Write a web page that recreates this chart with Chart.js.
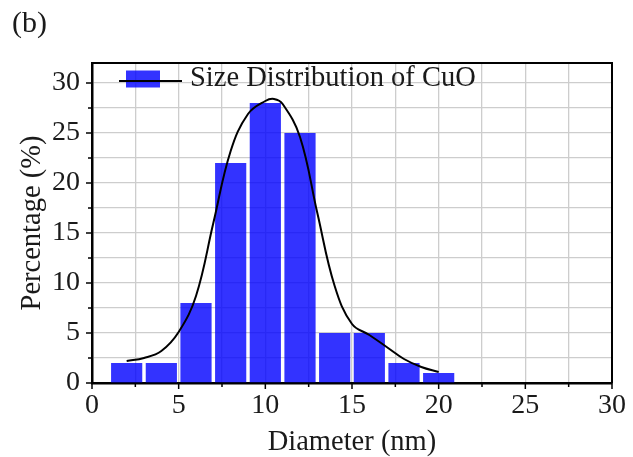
<!DOCTYPE html>
<html>
<head>
<meta charset="utf-8">
<script src="https://cdn.jsdelivr.net/npm/chart.js@4"></script>
<style>
  html, body { margin: 0; padding: 0; background: #fff; }
  #wrap { width: 633px; height: 457px; }
</style>
</head>
<body>
<div id="wrap"><canvas id="sizeChart" width="633" height="457"></canvas></div>
<script>
// histogram bins (centre of each 2 nm bin) and percentages
const binCenters = [2, 4, 6, 8, 10, 12, 14, 16, 18, 20];
const binPercent = [2, 2, 8, 22, 28, 25, 5, 5, 2, 1];

// fitted distribution curve
const curveX = [2, 3, 4, 5, 6, 7, 8, 9, 10, 10.5, 11, 12, 13, 14, 15, 16, 17, 18, 19, 20];
const curveY = [2.2, 2.5, 3.2, 5.1, 8.7, 16.0, 23.2, 26.9, 28.2, 28.4, 27.9, 24.6, 17.0, 9.7, 5.9, 4.8, 3.6, 2.4, 1.6, 1.1];

// grid / tick positions (labels only on multiples of 5)
const xTickValues = [0, 2.5, 5, 7.5, 10, 12.5, 15, 17.5, 20, 22.5, 25, 27.5, 30];
const yTickValues = [0, 2.5, 5, 7.5, 10, 12.5, 15, 17.5, 20, 22.5, 25, 27.5, 30];

const xTitle = 'Diameter (nm)';
const yTitle = 'Percentage (%)';
const seriesLabel = 'Size Distribution of CuO';
const panelLabel = '(b)';

const SERIF = '"Liberation Serif", "Times New Roman", serif';
const TEXT = '#1a1a1a';
const BAR_FILL = 'rgba(0, 0, 255, 0.8)';

// outward tick marks: long on labelled values, short in between
const tickMarks = {
    id: 'tickMarks',
    afterDraw(chart) {
        const ctx = chart.ctx;
        const { x, y } = chart.scales;
        ctx.save();
        ctx.strokeStyle = '#000';
        ctx.lineWidth = 1.5;
        x.ticks.forEach(t => {
            const px = x.getPixelForValue(t.value);
            const len = t.value % 5 === 0 ? 6 : 4;
            ctx.beginPath();
            ctx.moveTo(px, y.bottom);
            ctx.lineTo(px, y.bottom + len);
            ctx.stroke();
        });
        y.ticks.forEach(t => {
            const py = y.getPixelForValue(t.value);
            const len = t.value % 5 === 0 ? 6 : 4;
            ctx.beginPath();
            ctx.moveTo(x.left, py);
            ctx.lineTo(x.left - len, py);
            ctx.stroke();
        });
        ctx.restore();
    }
};

// top and right edges of the frame
const frame = {
    id: 'frame',
    afterDraw(chart) {
        const { left, right, top, bottom } = chart.chartArea;
        const ctx = chart.ctx;
        ctx.save();
        ctx.strokeStyle = '#000';
        ctx.lineWidth = 2;
        ctx.beginPath();
        ctx.moveTo(left, top);
        ctx.lineTo(right, top);
        ctx.lineTo(right, bottom);
        ctx.stroke();
        ctx.restore();
    }
};

// legend: blue box crossed by the curve's line
const comboLegend = {
    id: 'comboLegend',
    afterDraw(chart) {
        const { left, top } = chart.chartArea;
        const ctx = chart.ctx;
        const cy = top + 16;
        ctx.save();
        ctx.fillStyle = BAR_FILL;
        ctx.fillRect(left + 34, cy - 8.5, 34, 17);
        ctx.strokeStyle = '#000';
        ctx.lineWidth = 2;
        ctx.beginPath();
        ctx.moveTo(left + 27, cy + 2);
        ctx.lineTo(left + 90, cy + 2);
        ctx.stroke();
        ctx.fillStyle = TEXT;
        ctx.font = '28.5px ' + SERIF;
        ctx.textBaseline = 'middle';
        ctx.textAlign = 'left';
        ctx.fillText(seriesLabel, left + 98, cy);
        ctx.restore();
    }
};

const ctx = document.getElementById('sizeChart');

new Chart(ctx, {
    type: 'bar',
    data: {
        datasets: [
            {
                type: 'line',
                label: seriesLabel,
                data: curveX.map((v, i) => ({ x: v, y: curveY[i] })),
                borderColor: '#000',
                borderWidth: 2,
                pointRadius: 0,
                fill: false,
                tension: 0.4,
                order: 0
            },
            {
                type: 'bar',
                label: seriesLabel,
                data: binCenters.map((v, i) => ({ x: v, y: binPercent[i] })),
                backgroundColor: BAR_FILL,
                borderWidth: 0,
                barPercentage: 0.9,
                categoryPercentage: 1.0,
                order: 1
            }
        ]
    },
    options: {
        responsive: false,
        animation: false,
        layout: { padding: { left: 12, right: 21, top: 0, bottom: 0 } },
        plugins: {
            legend: { display: false },
            tooltip: { enabled: false },
            title: {
                display: true,
                text: panelLabel,
                align: 'start',
                color: TEXT,
                font: { family: SERIF, size: 30, weight: 'normal', lineHeight: 1.2 },
                padding: { top: 6, bottom: 21 }
            }
        },
        scales: {
            x: {
                type: 'linear',
                min: 0,
                max: 30,
                offset: false,
                afterBuildTicks: s => { s.ticks = xTickValues.map(v => ({ value: v })); },
                afterFit: s => { s.height = 74; },
                ticks: {
                    autoSkip: false,
                    maxRotation: 0,
                    padding: 6,
                    color: TEXT,
                    font: { family: SERIF, size: 28 },
                    callback: v => (v % 5 === 0 ? v : '')
                },
                grid: { color: 'rgb(205,205,205)', lineWidth: 1.3, drawTicks: false, offset: false },
                border: { color: '#000', width: 2.5 },
                title: {
                    display: true,
                    text: xTitle,
                    color: TEXT,
                    font: { family: SERIF, size: 28.5, lineHeight: 1 },
                    padding: { top: 0, bottom: 0 }
                }
            },
            y: {
                min: 0,
                max: 32,
                afterBuildTicks: s => { s.ticks = yTickValues.map(v => ({ value: v })); },
                afterFit: s => { s.width = 80; },
                ticks: {
                    autoSkip: false,
                    padding: 12,
                    color: TEXT,
                    font: { family: SERIF, size: 28 },
                    callback: v => (v % 5 === 0 ? v : '')
                },
                grid: { color: 'rgb(205,205,205)', lineWidth: 1.3, drawTicks: false },
                border: { color: '#000', width: 2.5 },
                title: {
                    display: true,
                    text: yTitle,
                    color: TEXT,
                    font: { family: SERIF, size: 28.5, lineHeight: 1 },
                    padding: { top: 6.5, bottom: 0 }
                }
            }
        }
    },
    plugins: [tickMarks, frame, comboLegend]
});
</script>
</body>
</html>
